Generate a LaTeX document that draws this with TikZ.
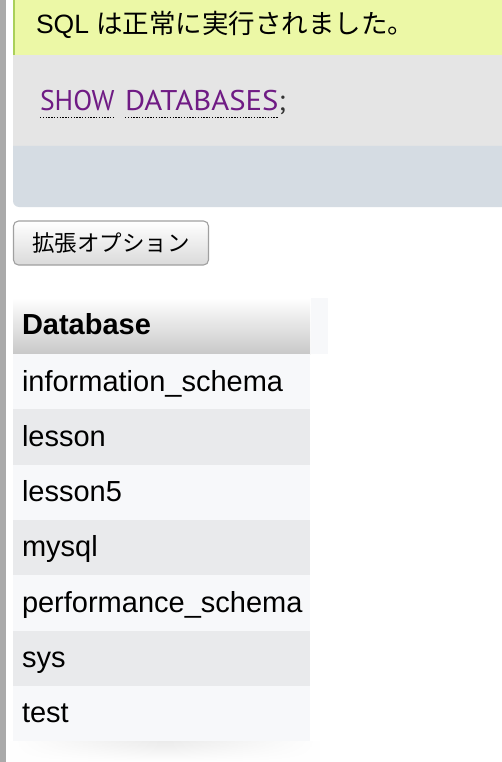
\documentclass[tikz,border=0pt]{standalone}
\usepackage{fontspec}
\usetikzlibrary{fadings}
\setmainfont{Liberation Sans}
\newfontfamily\jp{Noto Sans CJK JP}
\newfontfamily\kwfont{PT Sans}
\definecolor{barg}{RGB}{170,170,170}
\definecolor{okfill}{RGB}{236,248,166}
\definecolor{okline}{RGB}{170,208,90}
\definecolor{sqlfill}{RGB}{229,229,229}
\definecolor{toolfill}{RGB}{213,220,227}
\definecolor{kw}{RGB}{111,27,132}
\definecolor{rowlight}{RGB}{247,248,250}
\definecolor{rowdark}{RGB}{233,234,236}
\definecolor{hdrbot}{RGB}{200,200,200}
\definecolor{btnline}{RGB}{160,160,160}
\definecolor{btnbot}{RGB}{218,218,218}
\tikzfading[name=midfade, left color=transparent!100, right color=transparent!100, middle color=transparent!0]
\tikzset{
  txt/.style={anchor=base west, inner sep=0pt, outer sep=0pt},
  celltxt/.style={txt, font=\fontsize{29}{34}\selectfont},
  kwtxt/.style={txt, text=kw, font=\kwfont\fontsize{28.5}{32}\selectfont},
  uline/.style={line width=1.5pt, black, dash pattern=on 1.4pt off 1.4pt},
}
\begin{document}
\begin{tikzpicture}[x=1pt,y=1pt]
\useasboundingbox (0,0) rectangle (502,-762);
\fill[white] (0,0) rectangle (502,-762);
\fill[barg] (0,0) rectangle (6,-762);
% success message
\fill[okfill] (13,0) rectangle (502,-55);
\fill[okline] (13,0) rectangle (14.5,-55);
\node[txt, font=\fontsize{26.5}{30}\selectfont] (ok) at (36,-34) {SQL {\jp は正常に実行されました。}};
% sql box
\fill[sqlfill] (13,-55) rectangle (502,-146);
\node[kwtxt] (kw1) at (40,-110.5) {\scalebox{0.97}[1]{SHOW}};
\node[kwtxt] (kw2) at (125,-110.5) {\scalebox{1.08}[1]{DATABASES}};
\node[txt, font=\kwfont\fontsize{28.5}{32}\selectfont, text=black!80] (semi) at (kw2.base east) {;};
\draw[uline] ([yshift=-7pt]kw1.base west) -- ([yshift=-7pt]kw1.base east);
\draw[uline] ([yshift=-7pt]kw2.base west) -- ([yshift=-7pt]kw2.base east);
% tool bar
\fill[toolfill] (502,-146) -- (13,-146) [rounded corners=6pt] -- (13,-207) [sharp corners] -- (502,-207) -- cycle;
% button
\node[draw=btnline, line width=1.1pt, rounded corners=5pt, top color=white, bottom color=btnbot,
      minimum width=195pt, minimum height=44pt, inner sep=0pt,
      font=\jp\fontsize{22.5}{26}\selectfont] (btn) at (111,-243) {拡張オプション};
% header
\shade[top color=white, bottom color=hdrbot] (13,-298) rectangle (310,-354);
\fill[rowlight] (311,-298) rectangle (328,-354);
\node[txt, font=\bfseries\fontsize{29}{34}\selectfont] (hdr) at (22,-334) {Database};
% rows
\foreach \name [count=\i] in {information\_schema, lesson, lesson5, mysql, performance\_schema, sys, test}{
  \pgfmathsetmacro{\top}{-354-55.3*(\i-1)}
  \pgfmathsetmacro{\bl}{\top-37}
  \ifodd\i \def\rc{rowlight}\else\def\rc{rowdark}\fi
  \fill[\rc] (13,\top) rectangle (310,\top-55.3);
  \node[celltxt] (row\i) at (22,\bl) {\name};
}
% faint shadow under table
\shade[top color=black!8, bottom color=white, path fading=midfade] (10,-741) rectangle (320,-762);
\end{tikzpicture}
\end{document}
